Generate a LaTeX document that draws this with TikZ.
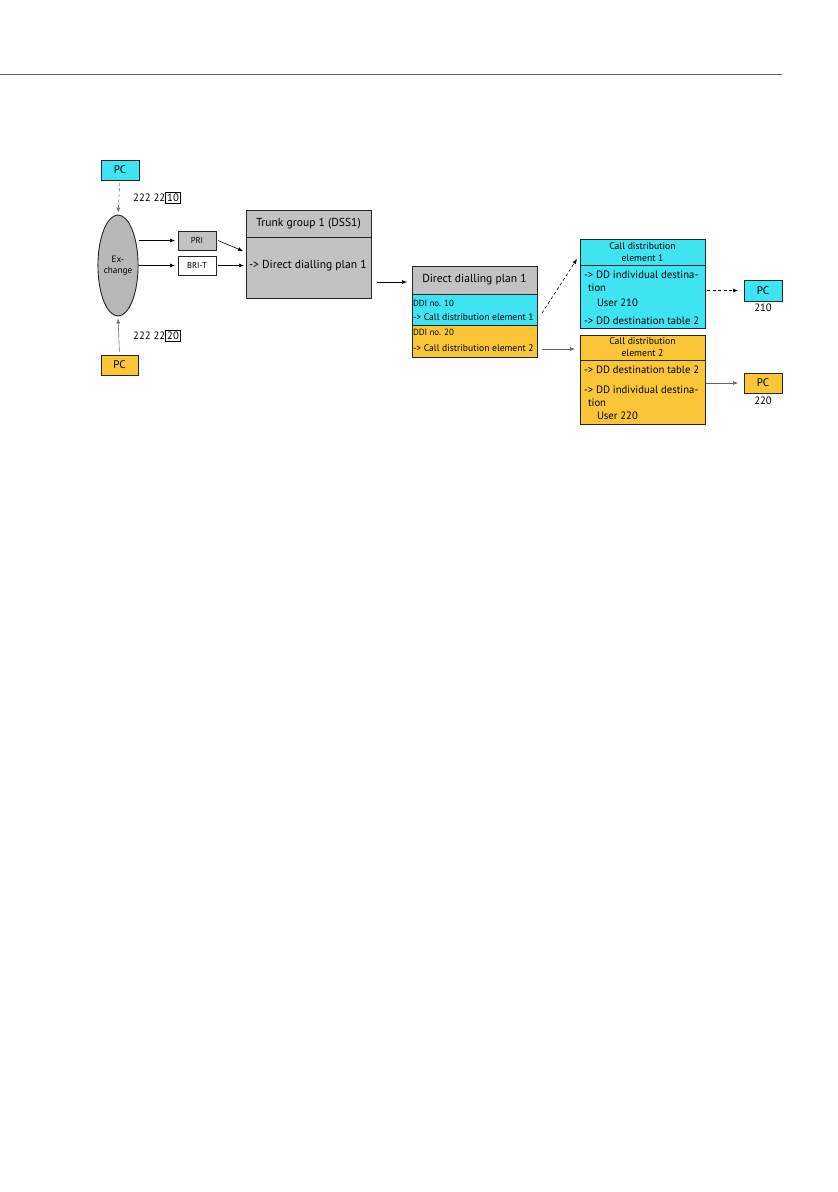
\documentclass[tikz,border=0pt]{standalone}
\usepackage{fontspec}
\setmainfont{PT Sans}
\usetikzlibrary{arrows.meta,shapes.geometric}
\definecolor{cy}{HTML}{3FE4F2}
\definecolor{og}{HTML}{FAC537}
\definecolor{gr}{HTML}{C2C2C2}
\definecolor{egr}{HTML}{B8B8B8}
\setlength\fboxsep{1.5pt}
\setlength\fboxrule{0.5pt}
\begin{document}
\begin{tikzpicture}[x=1pt,y=-1pt,
 bx/.style={draw=black!85, line width=0.9pt, anchor=north west, inner sep=0pt, outer sep=0pt},
 arr/.style={-{Latex[length=5pt,width=4pt]}, line width=0.6pt},
 darr/.style={arr, dash pattern=on 3pt off 2.5pt},
 tx/.style={anchor=base west, inner sep=0pt, outer sep=0pt},
 fbig/.style={font=\fontsize{11.6}{13}\selectfont},
 fpc/.style={font=\fontsize{11}{12}\selectfont},
 fbody/.style={font=\fontsize{10.7}{12}\selectfont},
 fcall/.style={font=\fontsize{9.6}{11}\selectfont},
 fddi/.style={font=\fontsize{8.9}{10}\selectfont},
 fsm/.style={font=\fontsize{8.6}{10}\selectfont},
 ]
\useasboundingbox (0,0) rectangle (838,1192);
\draw[black!60, line width=1pt] (0,74) -- (782,74);

% left side
\node[bx, fill=cy, minimum width=38pt, minimum height=20pt, fpc] (pc1) at (101,160) {PC};
\node[ellipse, draw=black!85, fill=egr, minimum width=40pt, minimum height=101pt, inner sep=0pt, line width=0.9pt, align=center, font=\fontsize{9.2}{11}\selectfont] (ex) at (118,265.5) {Ex-\\change};
\node[bx, fill=og, minimum width=37pt, minimum height=20pt, fpc] (pc4) at (101,355) {PC};
\node[anchor=west, inner sep=0pt, fbody] (n1) at (133,198) {222 22\fbox{10}};
\node[anchor=west, inner sep=0pt, fbody] (n2) at (133,336) {222 22\fbox{20}};
\draw[darr, draw=black!55, shorten <=3pt, shorten >=2pt] (pc1.south) -- (ex.north);
\draw[arr, draw=black!55, shorten <=3pt, shorten >=2pt] (pc4.north) -- (ex.south);

\node[bx, fill=gr, minimum width=38pt, minimum height=19pt, fsm] (pri) at (178,231) {PRI};
\node[bx, fill=white, minimum width=38pt, minimum height=19pt, fsm] (bri) at (178,256) {BRI-T};
\draw[arr, shorten >=3pt] (pri.west -| ex.east) -- (pri.west);
\draw[arr, shorten >=3pt] (bri.west -| ex.east) -- (bri.west);

% trunk group
\node[bx, fill=gr, minimum width=125pt, minimum height=27pt, fbig] (trh) at (246,210) {Trunk group 1 (DSS1)};
\node[bx, fill=gr, minimum width=125pt, minimum height=61pt] (trb) at (246,237) {};
\node[tx, fbig] (trt) at (249,268) {-> Direct dialling plan 1};
\draw[arr] ([xshift=2pt]pri.east) -- ([xshift=-3pt,yshift=-14pt]trb.north west);
\draw[arr, shorten <=2pt, shorten >=2pt] (bri.east) -- (bri.east -| trb.west);

% direct dialling plan
\node[bx, fill=gr, minimum width=125pt, minimum height=28pt, fbig] (ddh) at (412,266) {Direct dialling plan 1};
\node[bx, fill=cy, minimum width=125pt, minimum height=31pt] (ddc) at (412,294) {};
\node[bx, fill=og, minimum width=125pt, minimum height=32pt] (ddo) at (412,325) {};
\node[tx, fddi] (d1) at (413,306.2) {DDI no. 10};
\node[tx, fcall] (d2) at (413,320.5) {-> Call distribution element 1};
\node[tx, fddi] (d3) at (413,335.2) {DDI no. 20};
\node[tx, fcall] (d4) at (413,351.5) {-> Call distribution element 2};
\draw[arr, shorten <=6pt, shorten >=5pt] ([yshift=16pt]trb.south east) -- ([yshift=16pt]trb.south east -| ddh.west);

% call distribution element 1
\node[bx, fill=cy, minimum width=125pt, minimum height=26pt, align=center, font=\fontsize{9.7}{12}\selectfont] (c1h) at (580,239) {Call distribution\\element 1};
\node[bx, fill=cy, minimum width=125pt, minimum height=63pt] (c1b) at (580,265) {};
\node[tx, fbody] (e1) at (584,278.7) {-> DD individual destina-};
\node[tx, fbody] (e2) at (588,291.7) {tion};
\node[tx, fbody] (e3) at (597,306.7) {User 210};
\node[tx, fbody] (e4) at (584,324.7) {-> DD destination table 2};

% call distribution element 2
\node[bx, fill=og, minimum width=125pt, minimum height=25pt, align=center, font=\fontsize{9.7}{12}\selectfont] (c2h) at (580,335) {Call distribution\\element 2};
\node[bx, fill=og, minimum width=125pt, minimum height=64pt] (c2b) at (580,360) {};
\node[tx, fbody] (g1) at (584,373.7) {-> DD destination table 2};
\node[tx, fbody] (g2) at (584,393.7) {-> DD individual destina-};
\node[tx, fbody] (g3) at (588,406.7) {tion};
\node[tx, fbody] (g4) at (597,419.7) {User 220};

\draw[darr] ([xshift=5pt,yshift=-3.5pt]ddc.east) -- ([xshift=-3pt,yshift=-20pt]c1h.north west);
\draw[arr, draw=black!60, shorten >=5pt] ([xshift=5pt,yshift=-8pt]ddo.east) -- ([yshift=-8pt]ddo.east -| c2h.west);

% PCs right
\node[bx, fill=cy, minimum width=38pt, minimum height=21pt, fpc] (pc2) at (744,280) {PC};
\node[anchor=north, inner sep=0pt, fbody] (l2) at (763,304) {210};
\node[bx, fill=og, minimum width=38pt, minimum height=20pt, fpc] (pc3) at (744,373) {PC};
\node[anchor=north, inner sep=0pt, fbody] (l3) at (763,397) {220};
\draw[darr, shorten <=2pt, shorten >=6pt] (c1b.east |- pc2.west) -- (pc2.west);
\draw[arr, draw=black!60, shorten <=1pt, shorten >=6pt] (c2b.east |- pc3.west) -- (pc3.west);
\end{tikzpicture}
\end{document}
